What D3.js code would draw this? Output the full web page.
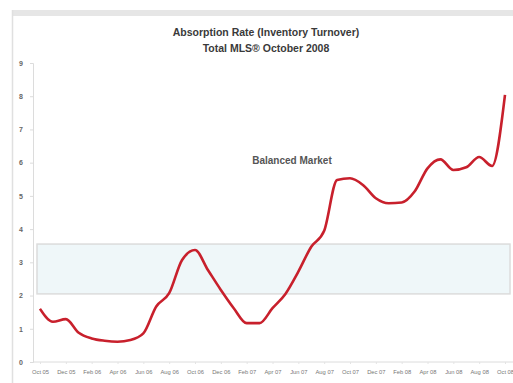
<!DOCTYPE html>
<html><head><meta charset="utf-8">
<script src="https://cdn.jsdelivr.net/npm/d3@7"></script>
<style>
html,body{margin:0;padding:0;background:#fff;}
svg{display:block;font-family:"Liberation Sans",Arial,sans-serif;}
</style></head>
<body>
<svg id="c" width="513" height="383"></svg>
<script>
const months = ["Oct 05","Nov 05","Dec 05","Jan 06","Feb 06","Mar 06","Apr 06","May 06","Jun 06","Jul 06","Aug 06","Sep 06",
"Oct 06","Nov 06","Dec 06","Jan 07","Feb 07","Mar 07","Apr 07","May 07","Jun 07","Jul 07","Aug 07","Sep 07",
"Oct 07","Nov 07","Dec 07","Jan 08","Feb 08","Mar 08","Apr 08","May 08","Jun 08","Jul 08","Aug 08","Sep 08","Oct 08"];
const values = [1.6,1.21,1.29,0.88,0.71,0.64,0.61,0.66,0.86,1.67,2.07,3.07,
3.37,2.77,2.17,1.62,1.17,1.17,1.62,2.05,2.72,3.47,3.95,5.48,
5.53,5.33,4.93,4.78,4.8,5.13,5.83,6.1,5.78,5.86,6.17,5.9,8.04];
const tickLabels = months.filter((d,i)=>i%2===0);
const yTicks = [0,1,2,3,4,5,6,7,8,9];
const band = [2.05,3.55];
const titleLines = ["Absorption Rate (Inventory Turnover)","Total MLS\u00AE October 2008"];
const bandLabel = "Balanced Market";

const svg = d3.select("#c");
// frame
svg.append("rect").attr("x",12).attr("y",10).attr("width",501).attr("height",6).attr("fill","#e6e6e6");
svg.append("line").attr("x1",12.5).attr("x2",12.5).attr("y1",10).attr("y2",383).attr("stroke","#e0e0e0").attr("stroke-width",1.5);

const x = d3.scalePoint().domain(months).range([40,505]);
const y = d3.scaleLinear().domain([0,9]).range([362,63]);

// band
svg.append("rect").attr("x",37).attr("width",473)
  .attr("y",y(band[1])).attr("height",y(band[0])-y(band[1]))
  .attr("fill","#eff7f9").attr("stroke","#dcdcdc").attr("stroke-width",1.5);

// axes
const ya = svg.append("g").attr("transform","translate(33,0)")
  .call(d3.axisLeft(y).tickValues(yTicks).tickSize(3).tickPadding(7));
ya.select(".domain").attr("stroke","#dcdcdc");
ya.selectAll(".tick line").attr("stroke","#dcdcdc");
ya.selectAll("text").attr("fill","#666").attr("font-size",7).attr("font-weight","bold");

const xa = svg.append("g").attr("transform","translate(0,362)")
  .call(d3.axisBottom(x).tickValues(tickLabels).tickSize(2).tickPadding(6));
xa.select(".domain").attr("stroke","#dcdcdc").attr("d","M33,0H513");
xa.selectAll(".tick line").attr("stroke","#e4e4e4");
xa.selectAll("text").attr("fill","#777").attr("font-size",5.8);

// line
const line = d3.line().x((d,i)=>x(months[i])).y(d=>y(d)).curve(d3.curveMonotoneX);
svg.append("path").datum(values).attr("d",line).attr("fill","none")
  .attr("stroke","#c8202c").attr("stroke-width",2.6).attr("stroke-linejoin","round");

// titles
svg.selectAll(".t").data(titleLines).enter().append("text")
  .attr("x",266).attr("y",(d,i)=>35.5+i*16.5).attr("text-anchor","middle")
  .attr("font-size",10.5).attr("font-weight","bold").attr("fill","#3a3a3a").text(d=>d);
svg.append("text").attr("x",292).attr("y",163.5).attr("text-anchor","middle")
  .attr("font-size",10).attr("font-weight","bold").attr("fill","#555").text(bandLabel);
</script>
</body></html>
